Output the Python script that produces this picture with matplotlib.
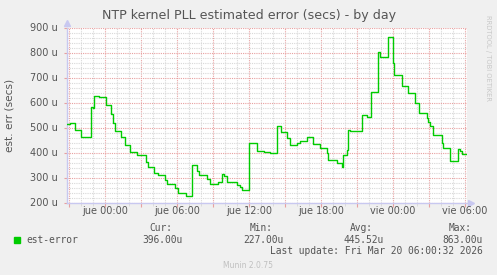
import numpy as np
import matplotlib
matplotlib.use("Agg")
import matplotlib.pyplot as plt
from matplotlib.ticker import MultipleLocator, FixedLocator

# hours relative to "jue 00:00", value in micro-seconds
hours = [-3.17, -2.92, -2.5, -2.0, -1.17, -1.0, -0.92, -0.5, 0.08, 0.5, 0.67, 0.83,
         1.33, 1.67, 2.08, 2.67, 3.42, 3.58, 4.08, 4.42, 5.0, 5.17, 5.83, 6.08, 6.75,
         7.25, 7.67, 7.83, 8.5, 8.75, 9.42, 9.75, 9.92, 10.17, 11.0, 11.25, 11.42,
         12.0, 12.67, 13.25, 13.75, 14.33, 14.67, 15.17, 15.42, 16.0, 16.25, 16.83,
         17.33, 17.92, 18.5, 18.58, 19.33, 19.75, 19.83, 20.17, 20.25, 20.42, 21.42,
         21.83, 22.17, 22.75, 22.92, 23.58, 24.0, 24.08, 24.75, 25.25, 25.83, 26.17,
         26.83, 26.92, 27.08, 27.33, 28.08, 28.17, 28.75, 29.42, 29.58, 29.75, 30.08]
est_error = [516, 520, 492, 464, 584, 580, 628, 624, 592, 556, 520, 488,
             464, 432, 404, 392, 364, 344, 320, 312, 292, 276, 260, 240, 227,
             352, 330, 312, 296, 276, 284, 316, 310, 284, 272, 264, 252,
             440, 408, 404, 400, 508, 485, 460, 432, 440, 448, 464,
             436, 420, 400, 372, 360, 344, 392, 412, 492, 489, 552,
             544, 644, 804, 784, 863, 760, 712, 668, 640, 600, 560,
             540, 524, 510, 472, 440, 420, 368, 416, 410, 396, 396]

x_labels = ["jue 00:00", "jue 06:00", "jue 12:00", "jue 18:00", "vie 00:00", "vie 06:00"]
x_label_pos = [0, 6, 12, 18, 24, 30]
y_ticks = [200, 300, 400, 500, 600, 700, 800, 900]

legend_name = "est-error"
stats = {"Cur:": "396.00u", "Min:": "227.00u", "Avg:": "445.52u", "Max:": "863.00u"}
last_update = "Last update: Fri Mar 20 06:00:32 2026"

W, H = 497, 275
fig = plt.figure(figsize=(W / 100, H / 100), dpi=100, facecolor="#F0F0F0")
ax = fig.add_axes([67 / W, 1 - 203 / H, 400 / W, 175 / H])
ax.set_facecolor("white")

ax.plot(hours, est_error, drawstyle="steps-post", color="#00CC00", lw=1.0, zorder=3)

ax.set_xlim(-3.17, 30.17)
ax.set_ylim(200, 900)

# grid: minor grey dotted, major red dotted
ax.xaxis.set_major_locator(MultipleLocator(3))
ax.xaxis.set_minor_locator(MultipleLocator(1))
ax.yaxis.set_major_locator(FixedLocator(y_ticks))
ax.yaxis.set_minor_locator(MultipleLocator(20))
ax.grid(which="minor", color="#D8D8D8", ls=(0, (1, 1)), lw=0.8)
ax.grid(which="major", color="#E8A0A0", ls=(0, (1, 1)), lw=0.8)
ax.set_axisbelow(True)

ax.set_xticklabels([])
ax.set_yticklabels([])
ax.tick_params(which="major", axis="x", length=3, color="#E8A0A0", direction="out")
ax.tick_params(which="minor", axis="x", length=2, color="#D8D8D8", direction="out")
ax.tick_params(which="major", axis="y", length=2, color="#E8A0A0", direction="out")
ax.tick_params(which="minor", axis="y", length=0)

for s in ["top", "right"]:
    ax.spines[s].set_visible(False)
for s in ["left", "bottom"]:
    ax.spines[s].set_color("#C8C8F0")
    ax.spines[s].set_linewidth(1.0)

# axis arrows
ax.plot([0], [1.03], marker="^", ms=4, color="#C8C8F0", transform=ax.transAxes, clip_on=False)
ax.plot([1.01], [0], marker=">", ms=4, color="#C8C8F0", transform=ax.transAxes, clip_on=False)

txt = "#555555"
for p, lab in zip(x_label_pos, x_labels):
    ax.text(p, 188, lab, ha="center", va="top", fontsize=7, color=txt, clip_on=False)
for v in y_ticks:
    ax.text(-3.17 - 0.8, v, f"{v} u", ha="right", va="center", fontsize=7, color=txt, clip_on=False)

def fx(x):
    return x / W

def fy(y):
    return 1 - y / H

fig.text(fx(249), fy(15), "NTP kernel PLL estimated error (secs) - by day",
         ha="center", va="center", fontsize=9.1, color=txt)
fig.text(fx(10), fy(115), "est. err (secs)", rotation=90, ha="center", va="center",
         fontsize=7.6, color=txt)
fig.text(fx(488), fy(15), "RRDTOOL / TOBI OETIKER", rotation=270, ha="center", va="top",
         fontsize=4.9, color="#C8C8C8")

mono = "DejaVu Sans Mono"
fig.patches.append(plt.Rectangle((fx(14), fy(243)), 6 / W, 6 / H, transform=fig.transFigure,
                                 color="#00CC00", figure=fig))
fig.text(fx(26), fy(240), legend_name, ha="left", va="center", family=mono, fontsize=6.9, color=txt)
right_edges = [183, 284, 384, 483]
for (k, v), xr in zip(stats.items(), right_edges):
    fig.text(fx(xr - 11), fy(228), k, ha="right", va="center", family=mono, fontsize=6.9, color=txt)
    fig.text(fx(xr), fy(240), v, ha="right", va="center", family=mono, fontsize=6.9, color=txt)
fig.text(fx(483), fy(251), last_update, ha="right", va="center", family=mono, fontsize=6.9, color=txt)
fig.text(fx(248), fy(266), "Munin 2.0.75", ha="center", va="center", fontsize=5.5, color="#C0C0C0")

fig.savefig("out.png", dpi=100, facecolor=fig.get_facecolor())
